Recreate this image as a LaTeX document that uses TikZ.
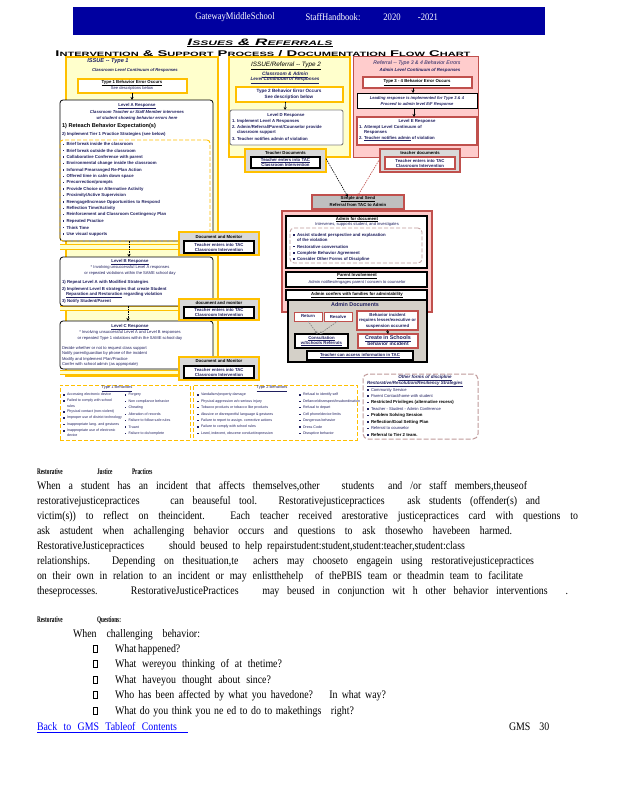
\documentclass[tikz,border=0pt]{standalone}
\usepackage{graphicx}
\usepackage{fontspec}
\setmainfont{Liberation Serif}
\newfontfamily\fc{Liberation Sans}
\newfontfamily\bodyf{Liberation Serif}[FakeStretch=0.86]
\newfontfamily\condf{Liberation Serif}[FakeStretch=0.62]
\usetikzlibrary{arrows.meta}
\definecolor{navy}{HTML}{0000A0}
\definecolor{gold}{HTML}{FFC000}
\definecolor{ylw}{HTML}{FFFFCC}
\definecolor{pinkf}{HTML}{FFCCCC}
\definecolor{redb}{HTML}{C0504D}
\definecolor{grayf}{HTML}{D9D9D9}
\definecolor{grayd}{HTML}{D4D0C8}
\definecolor{ink}{HTML}{1F1F5F}
\definecolor{dashr}{HTML}{C09A9A}
\newcommand{\fs}[1]{\fontsize{#1}{#1}\selectfont}
\newcounter{nn}
\newcommand{\bx}[6]{\stepcounter{nn}\node[#6, anchor=north west, minimum width={(#4-#2)*1pt}, minimum height={(#5-#3)*1pt}] (#1) at (#2,#3) {};}
\newcommand{\tx}[4][]{\stepcounter{nn}\node[t,#1] (t\thenn) at (#2,#3) {#4};}
\newcommand{\bl}[2]{\stepcounter{nn}\node[bul] (b\thenn) at (#1,#2) {};}
\newcommand{\bt}[4][]{\bl{#2}{#3}\tx[anchor=west,#1]{#2+3}{#3}{#4}}
\newcommand{\bline}[4]{\stepcounter{nn}\node[anchor=base west, font=\bodyf\fs{11.5}] (L\thenn) at (#1,#2) {\makebox[#3pt][s]{#4}};}
\tikzset{
  every node/.style={inner sep=0pt, outer sep=0pt},
  t/.style={font={\fc\fs{4.3}\bfseries}, text=ink},
  tn/.style={font={\fc\fs{4.1}}, text=ink},
  ts/.style={font={\fc\fs{3.6}}, text=ink},
  bul/.style={fill=ink, minimum size=1.3pt},
  arr/.style={-{Stealth[length=3pt,width=3pt]}, line width=0.6pt},
  darr/.style={arr, dashed, dash pattern=on 1.5pt off 1pt},
  ycol/.style={draw=gold, line width=1.2pt, fill=ylw},
  docb/.style={draw=gold, line width=1.8pt, fill=grayf},
  inb/.style={draw=black, line width=1.2pt, fill=white},
  lvl/.style={draw=black, line width=0.8pt, fill=white, rounded corners=3pt},
  behb/.style={draw=gold, dashed, dash pattern=on 4pt off 2pt, line width=1pt, fill=white},
  qbox/.style={draw=black, line width=0.4pt, minimum width=4.5pt, minimum height=7pt, anchor=west},
}
\begin{document}
\begin{tikzpicture}[x=1pt,y=-1pt]
\useasboundingbox (0,0) rectangle (618,800);
\fill[white] (0,0) rectangle (618,800);
% header
\bx{hdr}{73}{7}{545}{35}{fill=navy}
\begin{scope}[every node/.append style={text=white, font=\bodyf\fs{10}}]
\node (h1) at (235,17) {GatewayMiddleSchool};
\node (h2) at (333,17) {StaffHandbook:};
\node (h3) at (392,17) {2020};
\node (h4) at (428,17) {-2021};
\end{scope}
\node (ttl1) at (260,43) {\resizebox{145pt}{6.5pt}{\fc\bfseries\itshape\underline{I{\fs{7}SSUES} \& R{\fs{7}EFERRALS}}}};
\node (ttl2) at (263,53.5) {\resizebox{415pt}{6pt}{\fc\bfseries I{\fs{7.5}NTERVENTION} \& S{\fs{7.5}UPPORT} P{\fs{7.5}ROCESS} / D{\fs{7.5}OCUMENTATION} F{\fs{7.5}LOW} C{\fs{7.5}HART}}};

% ================= Type 1 column
\bx{c1}{66}{57}{218}{376}{ycol}
\tx[font={\fc\fs{5.6}\bfseries\itshape}]{108}{61}{ISSUE -- Type 1}
\tx[font={\fc\fs{4.2}\bfseries\itshape}]{135}{70.5}{Classroom Level Continuum of Responses}
\bx{t1e}{78}{79}{187}{93}{draw=gold, line width=1.2pt, fill=white}
\tx[text=black]{132}{83}{\underline{Type 1 Behavior Error Occurs}}
\tx[tn]{132}{88.5}{See descriptions below}
\bx{la}{60}{100}{213}{241}{lvl}
\draw[arr] ([xshift=-0.5pt]t1e.south) -- ([xshift=-4.5pt]la.north);
\tx{137}{106}{\underline{Level A Response}}
\tx[font={\fc\fs{4.2}\itshape\bfseries}]{137}{112}{Classroom Teacher or Staff Member intervenes}
\tx[font={\fc\fs{4.2}\itshape\bfseries}]{137}{118}{w/ student showing behavior errors here}
\tx[anchor=west, font={\fc\fs{5.6}\bfseries}, text=black]{62}{126}{1) Reteach Behavior Expectation(s)}
\tx[anchor=west]{62}{134}{2) Implement Tier 1 Practice Strategies (see below)}
\bx{lad}{60}{140}{210}{241}{draw=gold, dashed, dash pattern=on 4pt off 2pt, line width=0.9pt, rounded corners=3pt}
\foreach \s [count=\i from 0] in {Brief break inside the classroom, Brief break outside the classroom, Collaborative Conference with parent, Environmental change inside the classroom, Informal Prearranged Re-Plan Action, Offered time in calm down space, Precorrection/prompts, Provide Choice or Alternative Activity, Proximity/Active Supervision, Reengage/Increase Opportunities to Respond, Reflection Time/Activity, Reinforcement and Classroom Contingency Plan, Repeated Practice, Think Time, Use visual supports}
 {\bt{63.5}{144.3+6.4*\i}{\s}}
% bands
\foreach \ya/\yb in {244/249, 306/310, 370/374}{
 \fill[ylw] (60,\ya) rectangle (213,\yb);
 \draw[gold, line width=0.9pt] (60,\ya) -- (213,\ya) (60,\yb) -- (213,\yb);}
\bx{lb}{60}{257}{213}{306}{lvl}
\tx{130}{262}{\underline{Level B Response}}
\tx[tn]{130}{267.5}{* Involving unsuccessful Level A responses}
\tx[tn]{130}{273}{or repeated violations within the SAME school day}
\tx[anchor=west]{62}{282}{1) Repeat Level A with Modified Strategies}
\tx[anchor=west]{62}{289}{2) Implement Level B strategies that create Student}
\tx[anchor=west]{66}{295}{\underline{Reparation and Restoration} regarding violation}
\tx[anchor=west]{62}{301}{3) Notify Student/Parent}
\bx{lc}{60}{321}{213}{369}{lvl}
\tx{130}{327}{\underline{Level C Response}}
\tx[tn]{130}{332.5}{* Involving unsuccessful Level A and Level B responses}
\tx[tn]{130}{338}{or repeated Type 1 violations within the SAME school day}
\tx[anchor=west,tn]{62}{348}{Decide whether or not to request class support}
\tx[anchor=west,tn]{62}{353.5}{Notify parent/guardian by phone of the incident}
\tx[anchor=west,tn]{62}{359}{Modify and Implement Plan/Practice}
\tx[anchor=west,tn]{62}{364.5}{Confer with school admin (as appropriate)}
\draw[darr] ([xshift=-7.5pt]la.south) -- ([xshift=-7.5pt]lb.north);
\draw[darr] ([xshift=-8.5pt]lb.south) -- ([xshift=-8.5pt]lc.north);
% document boxes
\bx{d1}{179}{232}{259}{255}{docb}
\tx[text=black]{219}{236.5}{Document and Monitor}
\bx{d1i}{184}{241}{254}{253}{inb}
\tx{219}{244.5}{Teacher enters into TAC}
\tx{219}{250}{Classroom Intervention}
\bx{d2}{179}{299}{259}{320}{docb}
\tx[text=black]{219}{303}{document and monitor}
\bx{d2i}{184}{307}{254}{318}{inb}
\tx{219}{310}{Teacher enters into TAC}
\tx{219}{315.3}{Classroom Intervention}
\bx{d3}{179}{357}{259}{380}{docb}
\tx[text=black]{219}{361}{Document and Monitor}
\bx{d3i}{184}{366}{254}{378}{inb}
\tx{219}{369.5}{Teacher enters into TAC}
\tx{219}{375}{Classroom Intervention}

% behaviors boxes
\bx{b1}{60}{385}{190}{440}{behb}
\tx[font={\fc\fs{4}}]{117}{388.5}{\underline{Type 1 Behaviors}}
\foreach \s/\y in {Accessing electronic device/395, Failed to comply with school/401, rules/406, Physical contact (non-violent)/412, Improper use of district technology/418, Inappropriate lang. and gestures/424.5, Inappropriate use of electronic/431, device/435.5}
 {\tx[anchor=west,ts]{67}{\y}{\s}}
\foreach \y in {395,401,412,418,424.5,431}{\bl{64}{\y}}
\foreach \s [count=\i from 0] in {Forgery, Non compliance behavior, Cheating, Alteration of records, Failure to follow safe rules, Truant, Failure to do/complete}
 {\bt[ts]{125.5}{395+6.4*\i}{\s}}
\bx{b2}{193}{385}{357}{440}{behb}
\tx[font={\fc\fs{4}}]{272}{388.5}{\underline{Type 2 Behaviors}}
\foreach \s [count=\i from 0] in {Vandalism/property damage, Physical aggression w/o serious injury, Tobacco products or tobacco like products, Abusive or disrespectful language \& gestures, Failure to report to assign. corrective actions, Failure to comply with school rules, {Lewd, indecent, obscene conduct/expression}}
 {\bt[ts]{198}{395+6.4*\i}{\s}}
\foreach \s [count=\i from 0] in {Refusal to identify self, Defiance/disrespect/insubordination, Refusal to depart, Cell phone/device limits, Dangerous behavior, Dress Code, Disruptive behavior}
 {\bt[ts]{300}{395+6.4*\i}{\s}}

% ================= Type 2 column
\bx{c2}{229}{57}{350}{157}{ycol}
\tx[font={\fc\fs{6.3}\itshape}, text=black]{286}{66}{\underline{ISSUE/Referral -- Type 2}}
\tx[font={\fc\fs{4.8}\bfseries\itshape}]{285}{75}{\underline{Classroom \& Admin}}
\tx[font={\fc\fs{4.6}\bfseries\itshape}]{285}{80.5}{\underline{Level Continuum of Responses}}
\bx{t2e}{236}{87}{343}{102}{draw=gold, line width=1.2pt, fill=white}
\tx[font={\fc\fs{4.6}\bfseries}]{289}{91.5}{Type 2 Behavior Error Occurs}
\tx[font={\fc\fs{4.6}\bfseries}]{289}{97}{See description below}
\bx{l2}{230}{110}{343}{145}{draw=gray, line width=0.9pt, fill=white, rounded corners=2pt}
\draw[arr] ([xshift=-4pt]t2e.south) -- ([xshift=-1.5pt]l2.north);
\tx{286}{115}{Level D Response}
\tx[anchor=west]{232}{121}{1. Implement Level A Responses}
\tx[anchor=west]{232}{127}{2. Admin/Referral/Parent/Counselor provide}
\tx[anchor=west]{237}{132}{classroom support}
\tx[anchor=west]{232}{138.5}{3. Teacher notifies admin of violation}
\bx{td2}{245}{149}{326}{172}{draw=gold, line width=2pt, fill=grayf}
\tx[text=black]{285.5}{153}{Teacher Documents}
\bx{td2i}{251}{157}{320}{168}{inb}
\tx{285.5}{160.5}{\underline{Teacher enters into TAC}}
\tx{285.5}{165.3}{Classroom Intervention}

% ================= Type 3 column
\bx{c3}{353}{57}{478}{157}{draw=redb, line width=1pt, fill=pinkf}
\tx[font={\fc\fs{5.2}\itshape}]{417}{63}{Referral -- Type 3 \& 4 Behavior Errors}
\tx[font={\fc\fs{4.4}\bfseries\itshape}]{420}{70.5}{Admin Level Continuum of Responses}
\bx{t3e}{363}{77}{472}{88}{draw=redb, line width=1.2pt, fill=white}
\tx[text=black]{417}{82.5}{\underline{Type 3 - 4 Behavior Error Occurs}}
\bx{t3l}{357}{93}{477}{108}{draw=black, line width=0.9pt, fill=white}
\draw[arr] ([xshift=-4.5pt]t3e.south) -- ([xshift=-4pt]t3l.north);
\tx[font={\fc\fs{4.1}\bfseries\itshape}]{417}{98}{Leading response is implemented for Type 3 \& 4}
\tx[font={\fc\fs{4.1}\bfseries\itshape}]{417}{104}{Proceed to admin level E/F Response}
\bx{l3}{357}{117}{477}{145}{draw=redb, line width=1.5pt, fill=white}
\draw[arr] ([xshift=-3pt]t3l.south) -- ([xshift=-3pt]l3.north);
\tx{417}{121}{Level E Response}
\tx[anchor=west]{359}{127}{1. Attempt Level Continuum of}
\tx[anchor=west]{364}{132.5}{Responses}
\tx[anchor=west]{359}{138.5}{2. \underline{Teacher notifies admin} of violation}
\bx{td3}{380}{149}{460}{172}{draw=redb, line width=1.8pt, fill=grayf}
\tx[text=black]{420}{153}{teacher documents}
\bx{td3i}{385}{157}{455}{169}{draw=redb, line width=1.2pt, fill=white}
\tx{420}{160.5}{Teacher enters into TAC}
\tx{420}{165.5}{Classroom Intervention}

% ================= Admin section
\bx{ss}{312}{195}{404}{209}{draw=redb, line width=1.2pt, fill=gray!50}
\tx[text=black]{358}{199}{\underline{Simple and Send}}
\tx[text=black]{358}{204.5}{Referral from TAC to Admin}
\draw[darr] ([yshift=2pt]td2.east) -- ([xshift=-10pt,yshift=-2pt]ss.north);
\draw[darr, redb] ([yshift=2pt]td3.west) -- ([xshift=-1pt,yshift=-2pt]ss.north);
\bx{ad}{282}{211}{432}{312}{draw=redb, line width=1.5pt, fill=pinkf}
\bx{adf}{286}{216}{427}{268}{draw=black, line width=1.2pt, fill=white}
\tx[text=black]{357}{219.5}{\underline{Admin for document}}
\tx[tn]{357}{224}{Intervenes, supports student, and investigates}
\bx{add}{290}{228}{422}{263}{draw=dashr, dashed, dash pattern=on 4pt off 2pt, line width=0.8pt, rounded corners=4pt}
\bt{294}{235}{Assist student perspective and explanation}
\tx[anchor=west]{297}{239.5}{of the violation}
\bt{294}{246.7}{Restorative conversation}
\bt{294}{253}{Complete Behavior Agreement}
\bt{294}{259}{Consider Other Forms of Discipline}
\bx{pi}{286}{272}{427}{287}{draw=black, line width=1.2pt, fill=white}
\tx[text=black]{357}{276}{\underline{Parent Involvement}}
\tx[tn]{357}{282.7}{Admin notifies/engages parent / concern to counselor}
\bx{ac}{286}{290}{427}{300}{draw=black, line width=1.2pt, fill=white}
\tx[text=black]{357}{295}{\underline{Admin confers with families for admin/ability}}
\bx{adoc}{288}{300}{427}{362}{draw=black, line width=2pt, fill=grayd}
\tx[font={\fc\fs{5.4}\bfseries}]{355}{305}{Admin Documents}
\bx{ret}{294}{312}{322}{321}{draw=redb, line width=1pt, fill=white}
\tx{308}{316.5}{Return}
\bx{res}{324}{312}{352}{321}{draw=redb, line width=1pt, fill=white}
\tx{338}{316.5}{Resolve}
\bx{bi}{357}{311}{418}{330}{draw=redb, line width=1.5pt, fill=white}
\tx{387.5}{315}{Behavior incident}
\tx{387.5}{320.5}{requires lesser/executive or}
\tx{387.5}{326}{suspension occurred}
\bx{cons}{295}{334}{348}{348}{draw=black, line width=1.5pt, fill=white}
\tx{321.5}{338.5}{\underline{Consultation}}
\tx{321.5}{343.5}{\underline{w/Schools Referrals}}
\bx{cre}{358}{334}{418}{348}{draw=redb, line width=1.5pt, fill=white}
\tx[font={\fc\fs{5.4}\bfseries}]{388}{338.5}{\underline{Create in Schools}}
\tx[font={\fc\fs{5}\bfseries}]{388}{344}{behavior incident}
\draw[darr, gray] (ret.south) -- ([xshift=-4pt]cons.north);
\draw[darr, gray] (res.south) -- ([xshift=-2pt]cons.north);
\draw[arr] (bi.south) -- (cre.north);
\bx{tac}{307}{351}{413}{360}{draw=black, line width=1.5pt, fill=white}
\tx{360}{355.5}{\underline{Teacher can access information in TAC}}

% other forms
\bx{of}{363}{374}{478}{439}{draw=dashr, dashed, dash pattern=on 5pt off 2pt, line width=1pt, fill=white, rounded corners=5pt}
\tx[font={\fc\fs{4.5}\bfseries\itshape}]{425}{378}{\underline{Other forms of discipline}}
\tx[anchor=west, font={\fc\fs{4.5}\bfseries\itshape}]{367}{384}{\underline{Restorative/Resolution/Resiliency Strategies}}
\bt[tn]{368}{390}{Community Service}
\bt[tn]{368}{396}{Parent Contact/home with student}
\bt[text=black]{368}{402.5}{Restricted Privileges (alternative recess)}
\bt[tn]{368}{409}{Teacher - Student - Admin Conference}
\bt[text=black]{368}{415.5}{Problem Solving Session}
\bt[text=black]{368}{422}{Reflection/Goal Setting Plan}
\bt[tn]{368}{428.5}{Referral to counselor}
\bt[text=black]{368}{435}{Referral to Tier 2 team.}

% ================= body text
\begin{scope}[every node/.append style={font=\condf\bfseries\fs{8.5}, anchor=base west}]
\node (r1) at (37,474) {Restorative};
\node (r2) at (97,474) {Justice};
\node (r3) at (132,474) {Practices};
\node (r4) at (37,622) {Restorative};
\node (r5) at (97,622) {Questions:};
\end{scope}
\bline{37}{489}{490}{When a student has an incident that affects themselves,other\hspace{14pt} students\hspace{6pt} and /or staff members,theuseof}
\bline{37}{504}{503}{restorativejusticepractices\hspace{22pt} can beauseful tool. Restorativejusticepractices\hspace{14pt} ask students (offender(s) and}
\bline{37}{519}{541}{victim(s)) to reflect on theincident. Each teacher received arestorative justicepractices card with questions to}
\bline{37}{534}{475}{ask astudent when achallenging behavior occurs and questions to ask thosewho havebeen harmed.}
\bline{37}{549}{428}{RestorativeJusticepractices\hspace{20pt} should beused to help repairstudent:student,student:teacher,student:class}
\bline{37}{564}{497}{relationships. Depending on thesituation,te\hspace{6pt} achers may chooseto engagein using restorativejusticepractices}
\bline{37}{579}{486}{on their own in relation to an incident or may enlistthehelp\hspace{6pt} of thePBIS team or theadmin team to facilitate}
\bline{37}{594}{531}{theseprocesses.\hspace{14pt} RestorativeJusticePractices\hspace{16pt} may beused in conjunction wit h other behavior interventions\hspace{10pt} .}
\bline{73}{637}{127}{When challenging behavior:}
\foreach \q/\w [count=\i from 0] in {What happened?/53, What wereyou thinking of at thetime?/167, What haveyou thought about since?/156, Who has been affected by what you havedone?\hspace{8pt} In what way?/271, What do you think you ne ed to do to makethings\hspace{6pt} right?/239}{
  \stepcounter{nn}\node[qbox] (qb\i) at (93,648.5+15.5*\i) {};
  \bline{115}{652+15.5*\i}{\w}{\q}}
\stepcounter{nn}\node[anchor=base west, font=\bodyf\fs{11.5}, text=blue] (back) at (37,730) {\makebox[140pt][s]{Back to GMS Tableof Contents}};
\draw[blue, line width=0.6pt] ([yshift=-2pt]back.base west) -- ++(151,0);
\stepcounter{nn}\node[anchor=base west, font=\bodyf\fs{11.5}] (gms) at (509,730) {GMS\hspace{9pt}30};
\end{tikzpicture}
\end{document}
